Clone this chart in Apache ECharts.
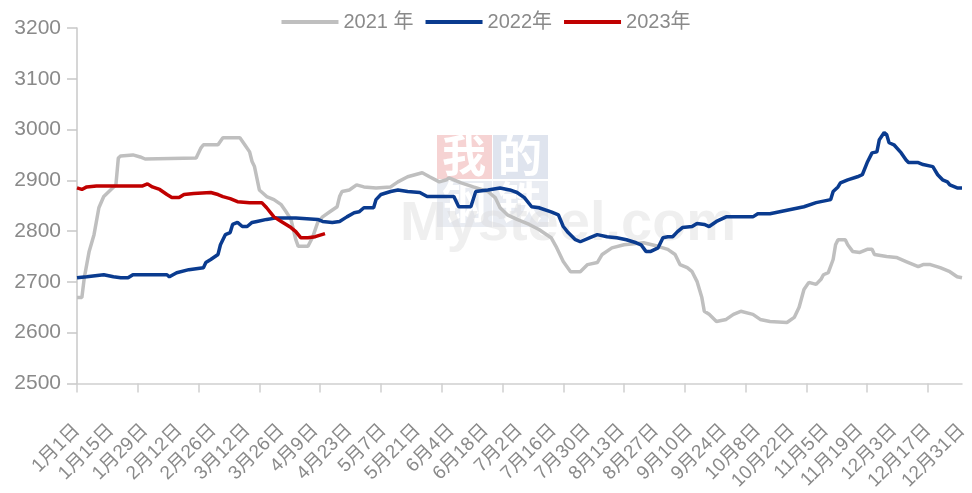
<!DOCTYPE html>
<html>
<head>
<meta charset="utf-8">
<script src="https://cdn.jsdelivr.net/npm/echarts@6/dist/echarts.min.js"></script>
<style>
  html, body {margin: 0; padding: 0; background: #fff;}
  #chart {width: 972px; height: 493px;}
</style>
</head>
<body>
<div id="chart"></div>
<script>
// 日期类目：1月1日 ~ 12月31日
const monthDays = [31, 28, 31, 30, 31, 30, 31, 31, 30, 31, 30, 31];
const categories = [];
monthDays.forEach((n, m) => {
  for (let d = 1; d <= n; d++) categories.push((m + 1) + '月' + d + '日');
});

const yTicks = [2500, 3200, 100];
const legendNames = ['2021 年', '2022年', '2023年'];

// 2021 年（第几天，价格）
const days2021 = [0, 2, 3, 5, 7, 9, 11, 14, 16, 17, 18, 23, 26, 28, 49, 51, 52, 58, 60, 67, 69, 71, 72, 73, 75, 78, 81, 84, 86, 88, 90, 91, 95, 97, 99, 101, 104, 107, 108, 109, 112, 115, 118, 123, 129, 132, 136, 142, 145, 149, 152, 153, 158, 163, 169, 172, 174, 177, 181, 186, 190, 195, 197, 200, 203, 207, 210, 214, 216, 220, 225, 233, 239, 243, 246, 248, 251, 253, 255, 257, 258, 260, 263, 267, 270, 273, 278, 281, 285, 292, 295, 297, 299, 301, 304, 306, 307, 309, 311, 312, 313, 316, 317, 319, 322, 325, 327, 328, 333, 337, 341, 346, 348, 351, 355, 359, 362, 364];
const values2021 = [2669, 2669, 2708, 2760, 2793, 2846, 2868, 2882, 2891, 2944, 2948, 2950, 2946, 2942, 2944, 2964, 2970, 2970, 2984, 2984, 2970, 2956, 2937, 2927, 2881, 2868, 2862, 2852, 2838, 2823, 2783, 2770, 2770, 2789, 2817, 2828, 2838, 2848, 2868, 2878, 2881, 2891, 2887, 2885, 2887, 2897, 2907, 2915, 2907, 2897, 2901, 2905, 2895, 2887, 2878, 2866, 2846, 2832, 2823, 2813, 2803, 2787, 2770, 2740, 2720, 2720, 2734, 2738, 2754, 2767, 2773, 2777, 2770, 2764, 2754, 2734, 2728, 2720, 2701, 2669, 2642, 2636, 2622, 2626, 2636, 2642, 2636, 2626, 2622, 2620, 2630, 2650, 2685, 2699, 2695, 2705, 2714, 2718, 2744, 2773, 2783, 2783, 2773, 2760, 2758, 2764, 2764, 2754, 2750, 2748, 2740, 2730, 2734, 2734, 2728, 2720, 2710, 2708];

// 2022年
const days2022 = [0, 4, 11, 15, 18, 21, 23, 37, 38, 41, 46, 52, 53, 55, 58, 59, 61, 63, 64, 66, 68, 70, 72, 74, 78, 82, 90, 99, 101, 105, 108, 111, 114, 116, 118, 122, 123, 125, 129, 132, 136, 141, 144, 152, 155, 157, 162, 164, 169, 174, 178, 181, 184, 187, 190, 195, 198, 200, 202, 205, 207, 211, 214, 218, 222, 226, 230, 232, 234, 236, 239, 241, 243, 245, 247, 249, 253, 255, 258, 260, 263, 267, 278, 280, 285, 289, 293, 299, 304, 310, 311, 313, 314, 317, 321, 323, 325, 327, 329, 330, 332, 333, 334, 336, 339, 341, 342, 346, 348, 352, 354, 356, 358, 359, 362, 364];
const values2022 = [2708, 2710, 2714, 2710, 2708, 2708, 2714, 2714, 2710, 2718, 2724, 2728, 2738, 2744, 2754, 2773, 2793, 2797, 2813, 2817, 2809, 2809, 2817, 2819, 2823, 2826, 2826, 2823, 2819, 2817, 2819, 2828, 2836, 2838, 2846, 2846, 2862, 2872, 2878, 2881, 2878, 2876, 2868, 2868, 2868, 2848, 2848, 2878, 2881, 2885, 2881, 2876, 2866, 2848, 2846, 2838, 2832, 2809, 2797, 2783, 2779, 2787, 2793, 2789, 2787, 2783, 2777, 2773, 2760, 2760, 2767, 2787, 2789, 2789, 2799, 2807, 2809, 2815, 2813, 2809, 2819, 2828, 2828, 2834, 2834, 2838, 2842, 2848, 2856, 2862, 2878, 2887, 2895, 2901, 2907, 2911, 2935, 2954, 2956, 2980, 2994, 2990, 2974, 2970, 2954, 2940, 2935, 2935, 2931, 2927, 2911, 2901, 2897, 2891, 2885, 2885];

// 2023年
const days2023 = [0, 2, 4, 8, 27, 29, 31, 34, 37, 39, 42, 44, 48, 55, 58, 60, 63, 66, 71, 76, 78, 81, 84, 86, 88, 90, 92, 95, 98, 102];
const values2023 = [2885, 2882, 2887, 2889, 2889, 2893, 2887, 2882, 2872, 2866, 2866, 2872, 2874, 2876, 2872, 2868, 2864, 2858, 2856, 2856, 2846, 2828, 2819, 2813, 2807, 2799, 2787, 2787, 2789, 2795];

const colors = ['#bfbfbf', '#0a3b8f', '#c00000'];
const labelColor = '#8a8a8a';
const fontFamily = '"Liberation Sans", "Noto Sans CJK SC", sans-serif';

function pairs(days, values) {
  return days.map((d, i) => [d, values[i]]);
}

const myChart = echarts.init(document.getElementById('chart'));
myChart.setOption({
  animation: false,
  color: colors,
  textStyle: {fontFamily},
  grid: {left: 77, right: 10, top: 28, bottom: 109},
  legend: {
    top: 7,
    left: 'center',
    icon: 'rect',
    itemWidth: 57,
    itemHeight: 4,
    itemGap: 12,
    textStyle: {color: labelColor, fontSize: 20, fontFamily},
    data: legendNames
  },
  graphic: [
    {type: 'rect', z: 0, shape: {x: 437, y: 135, width: 55, height: 44}, style: {fill: '#f6d3d3'}},
    {type: 'rect', z: 0, shape: {x: 493, y: 135, width: 55, height: 44}, style: {fill: '#dfe4ee'}},
    {type: 'rect', z: 0, shape: {x: 437, y: 181, width: 55, height: 46}, style: {fill: '#e9ecf2'}},
    {type: 'rect', z: 0, shape: {x: 493, y: 181, width: 55, height: 46}, style: {fill: '#e9ecf2'}},
    {type: 'text', z: 0, left: 442, top: 133, style: {text: '我', fill: '#ffffff', font: 'bold 44px "Noto Sans CJK SC"'}},
    {type: 'text', z: 0, left: 498, top: 133, style: {text: '的', fill: '#ffffff', font: 'bold 44px "Noto Sans CJK SC"'}},
    {type: 'text', z: 0, left: 442, top: 180, style: {text: '钢', fill: '#ffffff', font: 'bold 44px "Noto Sans CJK SC"'}},
    {type: 'text', z: 0, left: 498, top: 180, style: {text: '铁', fill: '#ffffff', font: 'bold 44px "Noto Sans CJK SC"'}},
    {type: 'text', z: 0, left: 400, top: 197, style: {text: 'Mysteel.com', fill: 'rgba(220,220,220,0.45)', font: 'bold 56px "Liberation Sans"'}}
  ],
  xAxis: {
    type: 'category',
    data: categories,
    boundaryGap: false,
    axisLine: {lineStyle: {color: '#d0d0d0', width: 1.5}},
    axisTick: {interval: 24, length: 9, lineStyle: {color: '#d0d0d0', width: 1.5}},
    axisLabel: {
      interval: 13,
      rotate: 45,
      margin: 44,
      color: labelColor,
      fontSize: 19,
      fontFamily
    }
  },
  yAxis: {
    type: 'value',
    min: yTicks[0],
    max: yTicks[1],
    interval: yTicks[2],
    splitLine: {show: false},
    axisLine: {show: true, lineStyle: {color: '#c8c8c8', width: 1.5}},
    axisTick: {show: true, length: 10, lineStyle: {color: '#c8c8c8', width: 1.5}},
    axisLabel: {color: labelColor, fontSize: 21, margin: 16, fontFamily, formatter: (v) => String(v)}
  },
  series: [
    {name: legendNames[0], type: 'line', showSymbol: false, z: 2,
     lineStyle: {width: 3.5, color: colors[0]}, data: pairs(days2021, values2021)},
    {name: legendNames[1], type: 'line', showSymbol: false, z: 3,
     lineStyle: {width: 3.5, color: colors[1]}, data: pairs(days2022, values2022)},
    {name: legendNames[2], type: 'line', showSymbol: false, z: 4,
     lineStyle: {width: 3.5, color: colors[2]}, data: pairs(days2023, values2023)}
  ]
});
</script>
</body>
</html>
